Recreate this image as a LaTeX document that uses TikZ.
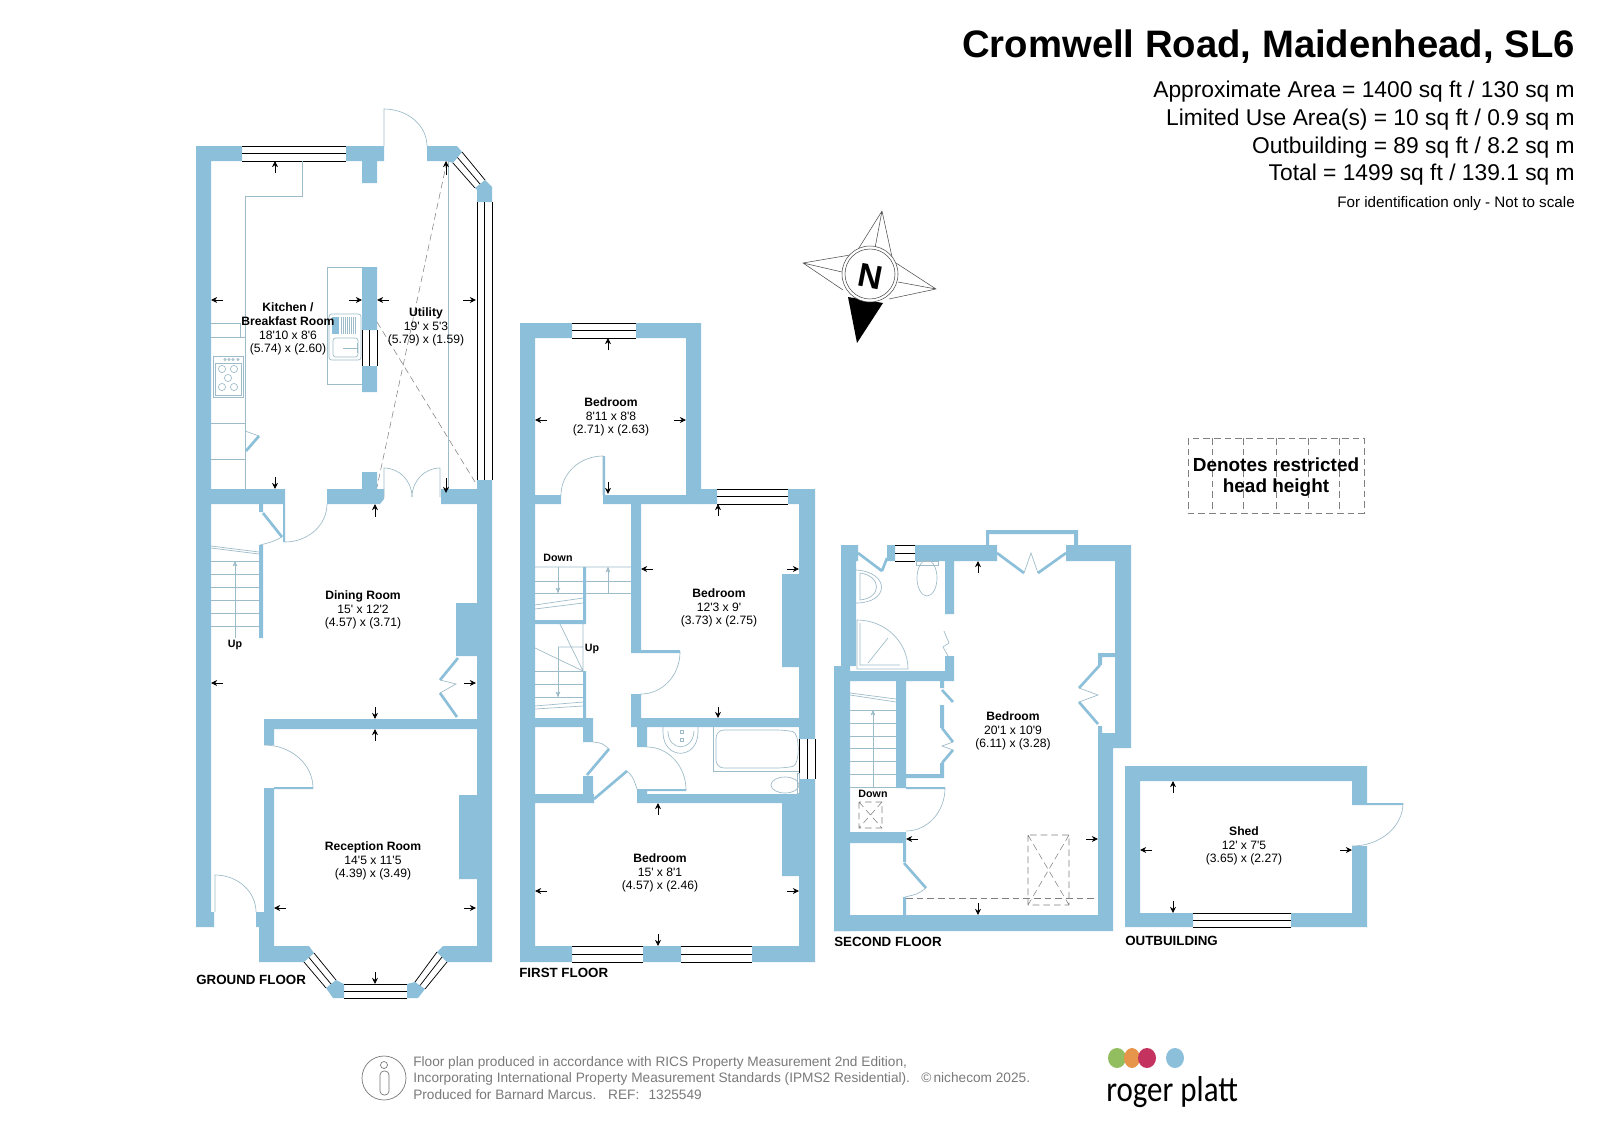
\documentclass[tikz,border=0pt]{standalone}
\usepackage{fontspec}
\usepackage{tikz}
\usetikzlibrary{arrows,arrows.meta,calc}
\newfontfamily\planfont{Liberation Sans}
\newfontfamily\logofont[FakeStretch=.86]{Carlito}
\definecolor{wallblue}{HTML}{8CBFDA}
\definecolor{fixline}{HTML}{9DBBC8}
\definecolor{footgrey}{HTML}{7A7A7A}
\definecolor{logogreen}{HTML}{93BE5F}
\definecolor{logoorange}{HTML}{E8954C}
\definecolor{logored}{HTML}{C4335F}
\tikzset{
  wall/.style={fill=wallblue},
  glaze/.style={draw=black,line width=.55pt},
  fixture/.style={draw=fixline,line width=.5pt},
  leaf/.style={draw=wallblue,line width=2pt},
  dimline/.style={-{Stealth[length=4.6pt,width=4.4pt]},draw=black,line width=.5pt},
  hatch/.style={draw=black!50,line width=.4pt,dash pattern=on 5pt off 3pt},
  roomlabel/.style={align=center,inner sep=0pt,font=\planfont\fontsize{9.1}{10.3}\selectfont},
  floorname/.style={anchor=base west,inner sep=0pt,font=\planfont\bfseries\fontsize{10}{12}\selectfont},
  stairname/.style={inner sep=0pt,font=\planfont\bfseries\fontsize{8}{10}\selectfont},
  arealine/.style={anchor=base east,inner sep=0pt,font=\planfont\fontsize{17.1}{20}\selectfont},
  footline/.style={anchor=base west,inner sep=0pt,text=footgrey,font=\planfont\fontsize{10.25}{11}\selectfont}
}
% window: long sides (a)-(b) and (d)-(c)
\newcommand{\planwindow}[4]{\draw[glaze] #1 -- #2 ($#1!.5!#4$) -- ($#2!.5!#3$) #4 -- #3;}
\begin{document}
\begin{tikzpicture}[x=.75pt,y=-.75pt,>=stealth']
  \useasboundingbox (0,0) rectangle (1600,1132);
  \fill[white] (0,0) rectangle (1600,1132);

  % ground floor
  \fill[wall] (196,146) -- (242,146) -- (242,161) -- (211,161) -- (211,912) -- (214,912) -- (214,927) -- (196,927) -- cycle;
  \fill[wall] (346,146) -- (384,146) -- (384,161) -- (377,161) -- (377,183) -- (362,183) -- (362,161) -- (346,161) -- cycle;
  \fill[wall] (427,146) -- (457,146) -- (462,152) -- (453,163) -- (447,161) -- (427,161) -- cycle;
  \fill[wall] (485,180) -- (492,187) -- (492,202) -- (477,202) -- (477,190) -- (475,188) -- cycle;
  \fill[wall] (477,480) -- (492,480) -- (492,962) -- (447,962) -- (437,952) -- (443,946) -- (477,946) -- cycle;
  \fill[wall] (362,267) rectangle (377,330) (362,366) rectangle (377,392);
  \fill[wall] (211,489) rectangle (285,504) (441,489) rectangle (477,504);
  \fill[wall] (327,489) -- (362,489) -- (362,472) -- (377,472) -- (377,489) -- (384,489) -- (384,499) -- (380,504) -- (327,504) -- cycle;
  \fill[wall] (259,504) rectangle (263,512) (259,545) rectangle (263,638) (283,504) rectangle (285,542);
  \fill[wall] (456,603) rectangle (477,656) (459,795) rectangle (477,879);
  \fill[wall] (264,719) rectangle (477,729) (264,729) rectangle (274,745) (264,788) rectangle (274,912) (274,787) rectangle (313,789);
  \fill[wall] (256,912) -- (274,912) -- (274,946) -- (309,946) -- (314,953) -- (304,962) -- (259,962) -- (259,927) -- (256,927) -- cycle;
  \fill[wall] (336,980) -- (344,984) -- (344,998) -- (333,998) -- (326,988) -- cycle;
  \fill[wall] (407,984) -- (415,982) -- (425,989) -- (418,998) -- (407,998) -- cycle;

  \planwindow{(242,146)}{(346,146)}{(346,161)}{(242,161)}
  \planwindow{(462,152)}{(485,180)}{(475,188)}{(453,163)}
  \planwindow{(477,202)}{(477,480)}{(492,480)}{(492,202)}
  \planwindow{(362,330)}{(362,366)}{(377,366)}{(377,330)}
  \planwindow{(304,962)}{(326,988)}{(336,980)}{(314,953)}
  \planwindow{(344,984)}{(407,984)}{(407,998)}{(344,998)}
  \planwindow{(425,989)}{(447,962)}{(437,952)}{(415,982)}

  % kitchen fittings
  \draw[fixture] (302,161) -- (302,196) -- (245,196) -- (245,489);
  \draw[fixture] (211,323) -- (240,323) -- (240,337) (211,337) -- (245,337) (211,423) -- (245,423) (211,459) -- (245,459);
  \draw[fixture] (213,356) rectangle (243,397) (215,363) rectangle (241,395);
  \foreach \bx/\by in {222/369,234/369,228/378,222/387,234/387} \draw[fixture] (\bx,\by) circle (3.6);
  \foreach \bx in {225,229,233,238} \draw[fixture] (\bx,359.5) circle (1.2);
  \draw[fixture] (245,431) -- (259,436);
  \draw[leaf] (259,436) -- (246,451);
  \draw[fixture] (362,267) -- (327,267) -- (327,384) -- (362,384);
  \draw[fixture,rounded corners=2pt] (329,314) rectangle (361,360) (333,338) rectangle (358,357);
  \fill[wallblue] (332,317) rectangle (339,334);
  \foreach \sx in {341,343,...,355} \draw[fixture] (\sx,317) -- (\sx,334);
  \draw[fixture] (343,348) -- (357,348) (357,343) -- (357,353);
  % doors
  \draw[fixture] (384,146) -- (384,109) arc (-90:0:43 and 37);
  \draw[fixture] (384,497) -- (384,468) arc (-90:0:28 and 29);
  \draw[fixture] (440,497) -- (440,468) arc (-90:-180:28 and 29);
  \draw[fixture] (285,542) arc (90:0:42 and 38);
  \draw[leaf] (263,513) -- (282,537);
  \draw[fixture] (282,537) .. controls (272,542) .. (260,545);
  \draw[leaf] (458,658) -- (440,680) (440,693) -- (457,717);
  \draw[fixture] (440,680) -- (456,684) -- (440,693);
  \draw[fixture] (264,745) arc (-90:0:49 and 43);
  \draw[fixture] (215,912) -- (215,875) arc (-90:0:41 and 37);
  % stairs
  \foreach \ty in {561,574,587,600,613,626} \draw[fixture] (211,\ty) -- (259,\ty);
  \draw[fixture] (211,546) -- (259,552) (211,548) -- (259,554);
  \draw[fixture,->] (235,638) -- (235,561);
  \node[stairname] (upground) at (235,645) {Up};
  % restricted head height and measures
  \draw[hatch] (447,161) -- (377,487) (377,322) -- (475,482);
  \draw[fixture] (448,161) -- (448,489);
  \foreach \ax/\ay/\bx/\by in {275/173/275/161,223/300/211/300,349/300/362/300,389/300/377/300,463/300/476/300,275/477/275/489,375/517/375/504,446/175/446/161,446/478/446/493,223/683/211/683,464/683/476/683,375/707/375/719,375/741/375/729,286/908/274/908,464/908/476/908,375/972/375/984}
    \draw[dimline] (\ax,\ay) -- (\bx,\by);

  \node[roomlabel] (kitchen) at (288,329) {\textbf{Kitchen /}\\\textbf{Breakfast Room}\\18'10 x 8'6\\(5.74) x (2.60)};
  \node[roomlabel] (utility) at (426,327) {\textbf{Utility}\\19' x 5'3\\(5.79) x (1.59)};
  \node[roomlabel] (dining) at (363,610) {\textbf{Dining Room}\\15' x 12'2\\(4.57) x (3.71)};
  \node[roomlabel] (reception) at (373,861) {\textbf{Reception Room}\\14'5 x 11'5\\(4.39) x (3.49)};
  \node[floorname] (ground) at (196,984) {GROUND FLOOR};

  % first floor
  \fill[wall] (520,323) rectangle (535,962) (535,323) rectangle (572,338) (636,323) rectangle (701,338) (686,338) rectangle (701,504);
  \fill[wall] (535,495) rectangle (561,504) (603,495) rectangle (686,504) (603,456) rectangle (605,495);
  \fill[wall] (701,489) rectangle (717,504) (788,489) rectangle (815,504) (799,504) rectangle (815,739) (799,779) rectangle (815,962);
  \fill[wall] (535,946) rectangle (572,962) (643,946) rectangle (681,962) (752,946) rectangle (799,962);
  \fill[wall] (631,504) rectangle (641,650) (631,650) rectangle (680,653) (631,694) rectangle (641,718) (631,718) rectangle (799,727);
  \fill[wall] (637,727) rectangle (647,747) (637,789) rectangle (647,803) (647,794) rectangle (799,803) (647,789) rectangle (686,791);
  \fill[wall] (782,803) rectangle (799,876) (782,574) rectangle (799,667);
  \fill[wall] (583,567) rectangle (586,620) (535,620) rectangle (586,624) (583,671) rectangle (586,718) (535,718) rectangle (593,727);
  \fill[wall] (583,727) rectangle (593,742) (583,776) rectangle (593,794) (535,794) rectangle (594,803);

  \planwindow{(572,323)}{(636,323)}{(636,338)}{(572,338)}
  \planwindow{(717,489)}{(788,489)}{(788,504)}{(717,504)}
  \planwindow{(815,739)}{(815,779)}{(799,779)}{(799,739)}
  \planwindow{(572,946)}{(643,946)}{(643,962)}{(572,962)}
  \planwindow{(681,946)}{(752,946)}{(752,962)}{(681,962)}

  \draw[fixture] (603,495) -- (603,456) arc (-90:-180:42 and 39);
  \draw[fixture] (680,652) arc (0:90:39 and 42);
  \draw[fixture] (647,747) arc (-90:0:39 and 43);
  \draw[leaf] (587,775) -- (609,749) (594,799) -- (627,771);
  \draw[fixture] (593,742) .. controls (602,743) .. (609,749) (627,771) .. controls (633,777) .. (637,789);
  % stairs
  \foreach \ty in {581,593} \draw[fixture] (535,\ty) -- (583,\ty) (586,\ty) -- (631,\ty);
  \draw[fixture] (535,567) -- (631,567) (535,605) -- (583,598) (535,609) -- (583,603);
  \draw[fixture,->] (558,567) -- (558,593);
  \draw[fixture,->] (608,593) -- (608,567);
  \draw[fixture] (583,624) -- (583,671) (560,624) -- (583,671) (535,648) -- (583,671) (558,647) -- (583,647);
  \foreach \ty in {671,684,697} \draw[fixture] (535,\ty) -- (583,\ty);
  \draw[fixture] (535,706) -- (583,702) (535,709) -- (583,706);
  \draw[fixture,->] (558,647) -- (558,697);
  \node[stairname] (downfirst) at (558,558) {Down};
  \node[stairname] (upfirst) at (592,649) {Up};
  % bathroom
  \draw[fixture] (663,727) -- (663,733) .. controls (664,760) and (697,760) .. (698,733) -- (698,727);
  \draw[fixture] (668,731) .. controls (668,752) and (693,752) .. (694,731);
  \draw[fixture] (680,730) rectangle (683,733) (680,738) rectangle (683,741);
  \draw[fixture] (713,727) -- (713,771) -- (799,771);
  \draw[fixture,rounded corners=6pt] (716,730) -- (785,730) .. controls (800,733) and (800,765) .. (785,768) -- (716,768) -- cycle;
  \draw[fixture] (785,785) ellipse (14 and 8);
  \draw[fixture] (797,773) rectangle (799,793);
  \foreach \ax/\ay/\bx/\by in {608/350/608/338,547/420/535/420,674/420/686/420,608/482/608/494,718/516/718/504,653/569/641/569,787/569/799/569,718/707/718/718,658/815/658/803,547/891/535/891,787/891/799/891,658/934/658/946}
    \draw[dimline] (\ax,\ay) -- (\bx,\by);

  \node[roomlabel] (bedback) at (611,417) {\textbf{Bedroom}\\8'11 x 8'8\\(2.71) x (2.63)};
  \node[roomlabel] (bedmid) at (719,608) {\textbf{Bedroom}\\12'3 x 9'\\(3.73) x (2.75)};
  \node[roomlabel] (bedfront) at (660,873) {\textbf{Bedroom}\\15' x 8'1\\(4.57) x (2.46)};
  \node[floorname] (first) at (519,977) {FIRST FLOOR};

  % second floor
  \fill[wall] (841,545) rectangle (856,666) (856,545) rectangle (858,561) (887,545) rectangle (895,561) (915,545) rectangle (997,561);
  \fill[wall] (1066,545) rectangle (1131,561) (1115,561) rectangle (1131,748) (1098,653) rectangle (1115,657) (1098,653) rectangle (1102,665);
  \fill[wall] (1098,726) rectangle (1102,733) (1098,733) rectangle (1115,748) (1098,748) rectangle (1113,931) (834,915) rectangle (1113,931);
  \fill[wall] (834,666) rectangle (850,931) (850,671) rectangle (954,681) (945,561) rectangle (954,614) (945,656) rectangle (954,681);
  \fill[wall] (986,530) rectangle (1078,534) (986,534) rectangle (989,545) (1074,534) rectangle (1078,545);
  \fill[wall] (896,681) rectangle (906,788) (906,774) rectangle (944,778) (940,681) rectangle (944,688) (940,705) rectangle (944,728) (940,763) rectangle (944,778);
  \fill[wall] (906,787) rectangle (945,789) (850,832) rectangle (906,843) (903,843) rectangle (906,862) (903,897) rectangle (906,915);

  \planwindow{(895,545)}{(915,545)}{(915,561)}{(895,561)}

  \draw[leaf] (858,553) -- (882,571) (887,558) -- (882,571);
  \draw[leaf] (997,553) -- (1024,573) (1066,553) -- (1038,573);
  \draw[fixture] (1024,573) -- (1031,553) -- (1038,573);
  \draw[leaf] (1100,665) -- (1079,688) (1079,702) -- (1098,724);
  \draw[fixture] (1079,688) -- (1098,695) -- (1079,702);
  \draw[leaf] (942,690) -- (953,702) (942,728) -- (953,742) (953,750) -- (942,763);
  \draw[fixture] (953,742) -- (942,746) -- (953,750);
  \draw[leaf] (904,863) -- (926,888);
  \draw[fixture] (926,888) .. controls (918,894) .. (905,897);
  \draw[fixture] (945,788) arc (0:90:39 and 43);
  \draw[fixture] (944,631) -- (949,643) -- (943,647) -- (948,656);
  % stairs
  \foreach \ty in {710,723,736,748,761,774,787} \draw[fixture] (850,\ty) -- (896,\ty);
  \draw[fixture] (850,693) -- (896,699) (850,695) -- (896,702);
  \draw[fixture,->] (873,787) -- (873,710);
  \node[stairname] (downsecond) at (873,794) {Down};
  \draw[hatch] (859,802) rectangle (882,828) (859,802) -- (882,828) (882,802) -- (859,828);
  % restricted head height
  \draw[hatch] (1028,835) rectangle (1069,905) (1028,835) -- (1069,905) (1069,835) -- (1028,905);
  \draw[hatch] (906,898) -- (1098,898);
  % shower room
  \draw[fixture] (856,570) .. controls (890,572) and (890,603) .. (856,603);
  \draw[fixture] (860,573) .. controls (882,576) and (882,598) .. (860,600) -- cycle;
  \draw[fixture] (916,561) rectangle (938,565);
  \draw[fixture] (927,578) ellipse (10 and 18);
  \draw[fixture] (857,669) -- (857,620) arc (-90:0:51 and 49) -- cycle;
  \draw[fixture] (860,623) -- (860,665) -- (900,665) (868,663) -- (888,638);
  \foreach \ax/\ay/\bx/\by in {978/573/978/561,918/839/906/839,1086/839/1098/839,978/903/978/915}
    \draw[dimline] (\ax,\ay) -- (\bx,\by);

  \node[roomlabel] (bedtop) at (1013,731) {\textbf{Bedroom}\\20'1 x 10'9\\(6.11) x (3.28)};
  \node[floorname] (second) at (834,946) {SECOND FLOOR};

  % outbuilding
  \fill[wall] (1125,766) rectangle (1367,781) (1125,781) rectangle (1140,927) (1140,913) rectangle (1193,927) (1291,913) rectangle (1367,927);
  \fill[wall] (1352,781) rectangle (1367,803) (1352,846) rectangle (1367,913) (1352,803) rectangle (1403,805);
  \planwindow{(1193,913)}{(1291,913)}{(1291,927)}{(1193,927)}
  \draw[fixture] (1403,803) arc (0:90:51 and 43);
  \foreach \ax/\ay/\bx/\by in {1173/793/1173/781,1152/850/1140/850,1340/850/1352/850,1173/901/1173/913}
    \draw[dimline] (\ax,\ay) -- (\bx,\by);
  \node[roomlabel] (shed) at (1244,846) {\textbf{Shed}\\12' x 7'5\\(3.65) x (2.27)};
  \node[floorname] (outbuilding) at (1125,945) {OUTBUILDING};

  % compass
  \draw[black!70,line width=.4pt] (857,251) -- (882,211) -- (892,257) (882,211) -- (875,248);
  \draw[black!70,line width=.4pt] (850,255) -- (803,263) -- (843,290) (803,263) -- (842,272);
  \draw[black!70,line width=.4pt] (896,263) -- (936,289) -- (889,299) (936,289) -- (898,282);
  \fill[black] (848,297) -- (883,303) -- (857,343) -- cycle;
  \draw[black!70,line width=.4pt,fill=white] (870,274) circle (28);
  \draw[black!70,line width=.4pt] (870,274) circle (25);
  \node[inner sep=0pt,rotate=-11,font=\planfont\bfseries\fontsize{25}{25}\selectfont] (north) at (870,277) {N};

  % title and areas
  \node[anchor=base east,inner sep=0pt,font=\planfont\bfseries\fontsize{28.7}{32}\selectfont] (title) at (1575,57) {Cromwell Road, Maidenhead, SL6};
  \node[arealine] (approx) at (1575,97) {Approximate Area = 1400 sq ft / 130 sq m};
  \node[arealine] (limited) at (1575,125) {Limited Use Area(s) = 10 sq ft / 0.9 sq m};
  \node[arealine] (outarea) at (1575,153) {Outbuilding = 89 sq ft / 8.2 sq m};
  \node[arealine] (total) at (1575,180) {Total = 1499 sq ft / 139.1 sq m};
  \node[anchor=base east,inner sep=0pt,font=\planfont\fontsize{11.4}{12}\selectfont] (idonly) at (1575,207) {For identification only - Not to scale};

  % legend
  \draw[hatch] (1188,438) rectangle (1364,513);
  \foreach \lx in {1212,1243,1276,1308,1339} \draw[hatch] (\lx,438) -- (\lx,513);
  \node[align=center,inner sep=0pt,font=\planfont\bfseries\fontsize{14.2}{16}\selectfont] (legend) at (1276,477) {Denotes restricted\\head height};

  % footer
  \draw[black!55,line width=.5pt] (384,1078) circle (22);
  \draw[black!55,line width=.5pt] (384,1065) circle (3.5);
  \draw[black!55,line width=.5pt,rounded corners=3pt] (380,1071) rectangle (389,1095);
  \node[footline] (foota) at (413,1066) {Floor plan produced in accordance with RICS Property Measurement 2nd Edition,};
  \node[footline] (footb) at (413,1082) {Incorporating International Property Measurement Standards (IPMS2 Residential).};
  \node[footline] (footc) at (413,1099) {Produced for Barnard Marcus.\hspace{.5em} REF:\hspace{.4em} 1325549};
  \node[footline] (footd) at (921,1082) {\copyright\,nichecom 2025.};

  % logo
  \fill[logogreen] (1117,1058) ellipse (9 and 10);
  \fill[logoorange] (1132,1058) ellipse (8 and 10);
  \fill[logored] (1147,1058) ellipse (9 and 10);
  \fill[wallblue] (1175,1058) ellipse (9 and 10);
  \node[anchor=base west,inner sep=0pt,font=\logofont\fontsize{27}{30}\selectfont] (logo) at (1106,1101) {roger platt};
\end{tikzpicture}
\end{document}
